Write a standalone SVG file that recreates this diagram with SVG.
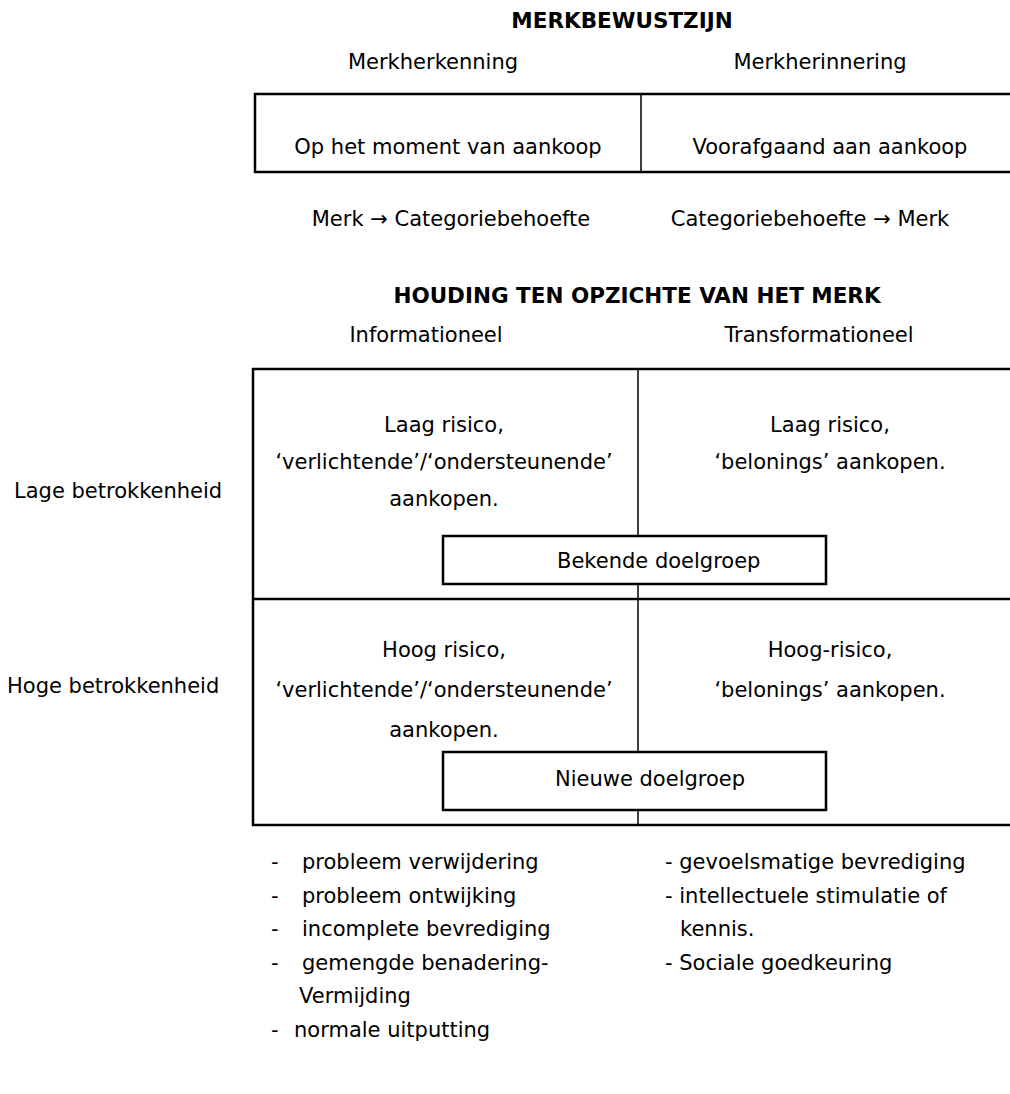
<svg xmlns="http://www.w3.org/2000/svg" width="1010" height="1094" viewBox="0 0 1010 1094">
<style>
text{font-family:"DejaVu Sans","Verdana",sans-serif;font-size:21px;fill:#000}
.b{font-weight:bold;font-size:21.5px}
.c{text-anchor:middle}
.ln{stroke:#000;stroke-width:2.5;fill:none}
.dv{stroke:#000;stroke-width:1.5;fill:none}
.bx{stroke:#000;stroke-width:2.5;fill:#fff}
</style>
<rect width="1010" height="1094" fill="#fff"/>
<g id="titles">
<text class="b c" x="622" y="28">MERKBEWUSTZIJN</text>
<text class="c" x="433" y="69">Merkherkenning</text>
<text class="c" x="820" y="69">Merkherinnering</text>
<text class="c" x="451" y="226">Merk → Categoriebehoefte</text>
<text class="c" x="810" y="226">Categoriebehoefte → Merk</text>
<text class="b c" x="637" y="303">HOUDING TEN OPZICHTE VAN HET MERK</text>
<text class="c" x="426" y="342">Informationeel</text>
<text class="c" x="819" y="342">Transformationeel</text>
<text x="14" y="498">Lage betrokkenheid</text>
<text x="7" y="693">Hoge betrokkenheid</text>
</g>
<g id="connectors">
<path class="ln" d="M254,94 H1012 M254,172 H1012 M255,93 V173"/>
<path class="dv" d="M641,94 V172"/>
<path class="ln" d="M252,369 H1012 M252,599 H1012 M252,825 H1012 M253,368 V826"/>
<path class="dv" d="M638,369 V825"/>
</g>
<g id="cell-recognition"><text class="c" x="448" y="154">Op het moment van aankoop</text></g>
<g id="cell-recall"><text class="c" x="830" y="154">Voorafgaand aan aankoop</text></g>
<g id="cell-low-info">
<text class="c" x="444" y="432">Laag risico,</text>
<text class="c" x="444" y="469">‘verlichtende’/‘ondersteunende’</text>
<text class="c" x="444" y="506">aankopen.</text>
</g>
<g id="cell-low-trans">
<text class="c" x="830" y="432">Laag risico,</text>
<text class="c" x="830" y="469">‘belonings’ aankopen.</text>
</g>
<g id="cell-high-info">
<text class="c" x="444" y="657">Hoog risico,</text>
<text class="c" x="444" y="697">‘verlichtende’/‘ondersteunende’</text>
<text class="c" x="444" y="737">aankopen.</text>
</g>
<g id="cell-high-trans">
<text class="c" x="830" y="657">Hoog-risico,</text>
<text class="c" x="830" y="697">‘belonings’ aankopen.</text>
</g>
<g id="box-bekend">
<rect class="bx" x="443" y="536" width="383" height="48"/>
<text x="557" y="568">Bekende doelgroep</text>
</g>
<g id="box-nieuw">
<rect class="bx" x="443" y="752" width="383" height="58"/>
<text x="555" y="786">Nieuwe doelgroep</text>
</g>
<g id="list-left">
<text x="271" y="869">-</text><text x="302" y="869">probleem verwijdering</text>
<text x="271" y="903">-</text><text x="302" y="903">probleem ontwijking</text>
<text x="271" y="936">-</text><text x="302" y="936">incomplete bevrediging</text>
<text x="271" y="970">-</text><text x="302" y="970">gemengde benadering-</text>
<text x="299" y="1003">Vermijding</text>
<text x="271" y="1037">-</text><text x="294" y="1037">normale uitputting</text>
</g>
<g id="list-right">
<text x="665" y="869">- gevoelsmatige bevrediging</text>
<text x="665" y="903">- intellectuele stimulatie of</text>
<text x="680" y="936">kennis.</text>
<text x="665" y="970">- Sociale goedkeuring</text>
</g>
</svg>
